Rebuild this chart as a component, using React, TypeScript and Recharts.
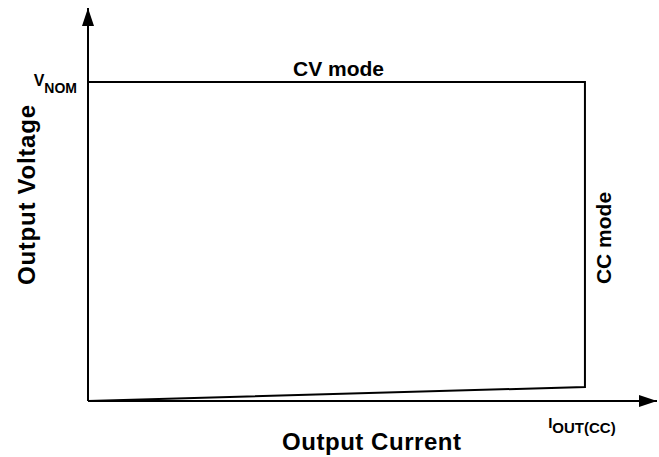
import { LineChart, Line, XAxis, YAxis } from "recharts"

// output current, in units of I_OUT(CC)
const currents = [0, 1, 1, 0]
// output voltage, in units of V_NOM
const voltages = [0, 0.044, 1, 1]

const xTicks = [1]
const yTicks = [1]
const X_MAX = 1.145
const Y_MAX = 1.232

const data = currents.map((c, i) => ({ current: c, voltage: voltages[i] }))

const FONT = "'Liberation Sans', Arial, Helvetica, sans-serif"

function VnomTick(props: any) {
  const { x, y } = props
  return (
    <text x={x + 1} y={y + 4} textAnchor="end" fontFamily={FONT} fontWeight="bold" fill="#000">
      <tspan fontSize={16}>V</tspan>
      <tspan fontSize={14} dy={7}>NOM</tspan>
    </text>
  )
}

function IoutTick(props: any) {
  const { x, y } = props
  return (
    <text x={x - 3} y={y + 25} textAnchor="middle" fontFamily={FONT} fontWeight="bold" fill="#000">
      <tspan fontSize={15}>I</tspan>
      <tspan fontSize={15} dy={5}>OUT(CC)</tspan>
    </text>
  )
}

export default function App() {
  return (
    <div style={{ position: "absolute", left: 0, top: 0, background: "#fff" }}>
      <LineChart
        width={659}
        height={457}
        data={data}
        margin={{ top: 8, right: 2, left: 87, bottom: 55 }}
      >
        <defs>
          <marker
            id="arrow"
            markerUnits="userSpaceOnUse"
            markerWidth={18}
            markerHeight={12}
            refX={18}
            refY={6}
            orient="auto-start-reverse"
          >
            <path d="M0,0 L18,6 L0,12 Z" fill="#000" />
          </marker>
        </defs>
        <XAxis
          type="number"
          dataKey="current"
          domain={[0, X_MAX]}
          ticks={xTicks}
          height={1}
          tickSize={0}
          tickLine={false}
          tick={<IoutTick />}
          axisLine={{ stroke: "#000", strokeWidth: 2, markerEnd: "url(#arrow)" }}
          allowDataOverflow
        />
        <YAxis
          type="number"
          dataKey="voltage"
          domain={[0, Y_MAX]}
          ticks={yTicks}
          width={1}
          tickSize={0}
          tickMargin={12}
          tickLine={false}
          tick={<VnomTick />}
          axisLine={{ stroke: "#000", strokeWidth: 2, markerStart: "url(#arrow)" }}
          allowDataOverflow
        />
        <Line
          type="linear"
          dataKey="voltage"
          stroke="#000"
          strokeWidth={2}
          dot={false}
          activeDot={false}
          isAnimationActive={false}
        />
        <text x={338.5} y={76} textAnchor="middle" fontFamily={FONT} fontWeight="bold" fontSize={21} fill="#000">
          CV mode
        </text>
        <text
          x={0}
          y={0}
          transform="translate(611 238) rotate(-90)"
          textAnchor="middle"
          fontFamily={FONT}
          fontWeight="bold"
          fontSize={21}
          fill="#000"
        >
          CC mode
        </text>
        <text
          x={0}
          y={0}
          transform="translate(35 195) rotate(-90)"
          textAnchor="middle"
          fontFamily={FONT}
          fontWeight="bold"
          fontSize={24}
          textLength={180}
          fill="#000"
        >
          Output Voltage
        </text>
        <text
          x={371.5}
          y={450}
          textAnchor="middle"
          fontFamily={FONT}
          fontWeight="bold"
          fontSize={24}
          textLength={179}
          fill="#000"
        >
          Output Current
        </text>
      </LineChart>
    </div>
  )
}
